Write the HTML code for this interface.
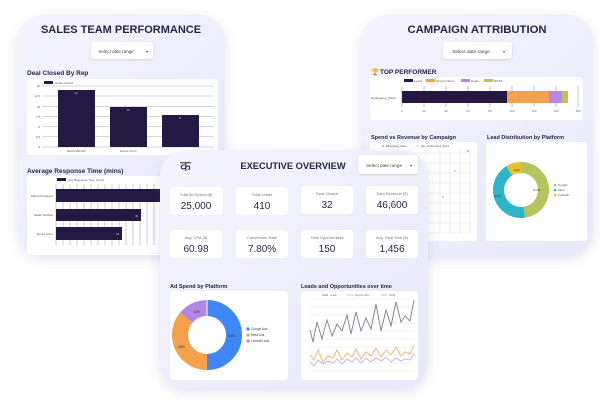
<!DOCTYPE html>
<html><head><meta charset="utf-8"><style>
html,body{margin:0;padding:0;background:#fff;width:600px;height:400px;overflow:hidden}
svg{display:block}
text{font-family:"Liberation Sans","Noto Sans CJK SC",sans-serif}
</style></head><body>
<svg width="600" height="400" viewBox="0 0 600 400" xmlns="http://www.w3.org/2000/svg">
<defs>
<linearGradient id="pg" x1="0" y1="0" x2="1" y2="1"><stop offset="0" stop-color="#f4f3fd"/><stop offset="1" stop-color="#e9e8fb"/></linearGradient>
<filter id="sh" x="-20%" y="-20%" width="140%" height="140%"><feDropShadow dx="0" dy="4" stdDeviation="6" flood-color="#7060a0" flood-opacity="0.18"/></filter>
<filter id="sh2" x="-10%" y="-10%" width="120%" height="120%"><feDropShadow dx="0" dy="1" stdDeviation="1" flood-color="#000" flood-opacity="0.12"/></filter>
</defs>

<!-- SALES PANEL -->
<rect x="18" y="15" width="207" height="240" rx="26" fill="url(#pg)" filter="url(#sh)"/>
<text x="121" y="33" font-size="11" font-weight="bold" fill="#2a2448" text-anchor="middle">SALES TEAM PERFORMANCE</text>
<rect x="91" y="42" width="62" height="17" rx="3" fill="#fff" filter="url(#sh2)"/>
<text x="116" y="53" font-size="4.5" fill="#444" text-anchor="middle">Select date range</text><text x="146" y="53" font-size="4" fill="#444">▾</text>
<text x="27" y="75" font-size="6.5" font-weight="bold" fill="#2a2448">Deal Closed By Rep</text>
<rect x="27" y="79" width="191" height="76" rx="3" fill="#fff"/>
<g stroke="#c8c8c8" stroke-width="0.8">
<line x1="42" y1="86" x2="214" y2="86"/><line x1="42" y1="96" x2="214" y2="96"/><line x1="42" y1="106.5" x2="214" y2="106.5"/><line x1="42" y1="116.5" x2="214" y2="116.5"/><line x1="42" y1="126.5" x2="214" y2="126.5"/><line x1="42" y1="136.5" x2="214" y2="136.5"/><line x1="42" y1="147" x2="214" y2="147"/></g>
<g font-size="3" fill="#555" text-anchor="end"><text x="40" y="87">15</text><text x="40" y="97">12.5</text><text x="40" y="108">10</text><text x="40" y="118">7.5</text><text x="40" y="128">5</text><text x="40" y="138">2.5</text><text x="40" y="148">0</text></g>
<rect x="44" y="81" width="9" height="3" fill="#231942"/><text x="55" y="84" font-size="3" fill="#555">Deals Closed</text>
<g fill="#231942"><rect x="58" y="90" width="37" height="57"/><rect x="110" y="107" width="37" height="40"/><rect x="162" y="115" width="37" height="32"/></g>
<g font-size="3" fill="#ccc" text-anchor="middle"><text x="76" y="94">14</text><text x="128" y="111">10</text><text x="180" y="119">8</text></g>
<g font-size="3" fill="#555" text-anchor="middle"><text x="76" y="152">Sarah Mitchell</text><text x="128" y="152">James Chen</text></g>
<text x="27" y="173" font-size="6.5" font-weight="bold" fill="#2a2448">Average Response Time (mins)</text>
<rect x="27" y="176" width="191" height="79" rx="3" fill="#fff"/>
<g stroke="#aaa" stroke-width="0.6">
<line x1="56" y1="184" x2="56" y2="245"/><line x1="63" y1="184" x2="63" y2="245"/><line x1="70" y1="184" x2="70" y2="245"/><line x1="77" y1="184" x2="77" y2="245"/><line x1="84" y1="184" x2="84" y2="245"/><line x1="91" y1="184" x2="91" y2="245"/><line x1="98" y1="184" x2="98" y2="245"/><line x1="105" y1="184" x2="105" y2="245"/><line x1="112" y1="184" x2="112" y2="245"/><line x1="119" y1="184" x2="119" y2="245"/><line x1="126" y1="184" x2="126" y2="245"/><line x1="133" y1="184" x2="133" y2="245"/><line x1="140" y1="184" x2="140" y2="245"/><line x1="147" y1="184" x2="147" y2="245"/><line x1="154" y1="184" x2="154" y2="245"/><line x1="161" y1="184" x2="161" y2="245"/></g>
<rect x="57" y="178" width="9" height="3" fill="#231942"/><text x="68" y="181" font-size="3" fill="#555">Avg Response Time (mins)</text>
<g fill="#231942"><rect x="56" y="189" width="110" height="13"/><rect x="56" y="209" width="85" height="12"/><rect x="56" y="227" width="66" height="13"/></g>
<g font-size="3" fill="#ccc"><text x="135" y="217">40</text><text x="116" y="235">31</text></g>
<g font-size="3" fill="#555" text-anchor="end"><text x="53" y="197">Maria Rodriguez</text><text x="53" y="216">Sarah Mitchell</text><text x="53" y="235">James Chen</text></g>

<!-- CAMPAIGN PANEL -->
<rect x="362" y="15" width="231" height="240" rx="26" fill="url(#pg)" filter="url(#sh)"/>
<text x="477" y="33" font-size="11.3" font-weight="bold" fill="#2a2448" text-anchor="middle">CAMPAIGN ATTRIBUTION</text>
<rect x="443" y="42" width="69" height="17" rx="3" fill="#fff" filter="url(#sh2)"/>
<text x="471" y="53" font-size="4.8" fill="#444" text-anchor="middle">Select date range</text><text x="503" y="53" font-size="4" fill="#444">▾</text>
<text x="371" y="74" font-size="6.5" fill="#d9a020">🏆</text><text x="380" y="74" font-size="6.5" font-weight="bold" fill="#2a2448">TOP PERFORMER</text>
<rect x="370" y="77" width="213" height="43" rx="3" fill="#fff"/>
<rect x="404" y="79" width="9" height="3" fill="#231942"/><text x="414" y="82" font-size="3" fill="#555">Leads</text>
<rect x="426" y="79" width="9" height="3" fill="#f4a14d"/><text x="436" y="82" font-size="3" fill="#555">Opportunities</text>
<rect x="461" y="79" width="9" height="3" fill="#b487e6"/><text x="471" y="82" font-size="3" fill="#555">Deals</text>
<rect x="484" y="79" width="9" height="3" fill="#b5c45c"/><text x="494" y="82" font-size="3" fill="#555">ROAS</text>
<g stroke="#999" stroke-width="0.6"><line x1="402" y1="86" x2="402" y2="107"/><line x1="424" y1="86" x2="424" y2="107"/><line x1="446" y1="86" x2="446" y2="107"/><line x1="468" y1="86" x2="468" y2="107"/><line x1="490" y1="86" x2="490" y2="107"/><line x1="512" y1="86" x2="512" y2="107"/><line x1="534" y1="86" x2="534" y2="107"/><line x1="556" y1="86" x2="556" y2="107"/><line x1="578" y1="86" x2="578" y2="107"/></g>
<rect x="402" y="91" width="105" height="12" fill="#231942"/><rect x="507" y="91" width="42" height="12" fill="#f4a14d"/><rect x="549" y="91" width="13" height="12" fill="#b487e6"/><rect x="562" y="91" width="6" height="12" fill="#b5c45c"/>
<text x="371" y="99" font-size="3" fill="#555">Retargeting_Warm</text>
<g font-size="3" fill="#666" text-anchor="middle"><text x="402" y="112">0</text><text x="424" y="112">20</text><text x="446" y="112">40</text><text x="468" y="112">60</text><text x="490" y="112">80</text><text x="512" y="112">100</text><text x="534" y="112">120</text><text x="556" y="112">140</text><text x="578" y="112">160</text></g>
<text x="371" y="139" font-size="5.5" font-weight="bold" fill="#2a2448">Spend vs Revenue by Campaign</text>
<text x="487" y="139" font-size="5.5" font-weight="bold" fill="#2a2448">Lead Distribution by Platform</text>
<rect x="370" y="142" width="107" height="99" rx="3" fill="#fff"/>
<g stroke="#e2e2e2" stroke-width="0.6"><line x1="384" y1="153" x2="470" y2="153"/><line x1="384" y1="163" x2="470" y2="163"/><line x1="384" y1="173" x2="470" y2="173"/><line x1="384" y1="183" x2="470" y2="183"/><line x1="384" y1="193" x2="470" y2="193"/><line x1="384" y1="203" x2="470" y2="203"/><line x1="384" y1="213" x2="470" y2="213"/><line x1="384" y1="223" x2="470" y2="223"/><line x1="384" y1="233" x2="470" y2="233"/><line x1="440" y1="150" x2="440" y2="233"/><line x1="450" y1="150" x2="450" y2="233"/><line x1="460" y1="150" x2="460" y2="233"/><line x1="470" y1="150" x2="470" y2="233"/></g>
<circle cx="383" cy="146" r="0.8" fill="#4a7ee8"/><text x="386" y="147" font-size="2.5" fill="#555">Retargeting_Warm</text>
<circle cx="418" cy="146" r="0.8" fill="#f4a14d"/><text x="421" y="147" font-size="2.5" fill="#555">Nov_Performance_Sprint</text>
<circle cx="468" cy="151" r="0.8" fill="#4a7ee8"/><circle cx="455" cy="171" r="0.8" fill="#f4a14d"/><circle cx="443" cy="197" r="0.8" fill="#b487e6"/>
<rect x="486" y="142" width="101" height="99" rx="3" fill="#fff"/>
<g transform="rotate(-90 521 190)" fill="none" stroke-width="11">
<circle cx="521" cy="190" r="22.5" stroke="#b5c45c" stroke-dasharray="67.3 141.4"/>
<circle cx="521" cy="190" r="22.5" stroke="#2bb5c8" stroke-dasharray="0 67.3 61.5 141.4"/>
<circle cx="521" cy="190" r="22.5" stroke="#e8c02a" stroke-dasharray="0 128.8 12.6 141.4"/>
</g>
<g font-size="2.5" fill="#333"><text x="533" y="191">47.6%</text><text x="494" y="197">43.5%</text><text x="514" y="171">8.9%</text></g>
<g font-size="3" fill="#555"><circle cx="555" cy="185" r="1.3" fill="#b5c45c"/><text x="558" y="186">Google</text><circle cx="555" cy="190" r="1.3" fill="#2bb5c8"/><text x="558" y="191">Meta</text><circle cx="555" cy="195" r="1.3" fill="#e8c02a"/><text x="558" y="196">LinkedIn</text></g>

<!-- EXECUTIVE PANEL -->
<rect x="160" y="150" width="268" height="238" rx="26" fill="url(#pg)" filter="url(#sh)"/>
<text x="180" y="171" font-size="14" fill="#2a2448" font-family="'Noto Sans CJK SC','DejaVu Sans',sans-serif">क</text>
<text x="293" y="169" font-size="9.3" font-weight="bold" fill="#2a2448" text-anchor="middle">EXECUTIVE OVERVIEW</text>
<rect x="358" y="155" width="60" height="19" rx="3" fill="#fff" filter="url(#sh2)"/>
<text x="384" y="167" font-size="4.6" fill="#444" text-anchor="middle">Select date range</text><text x="410" y="167" font-size="4" fill="#444">▾</text>
<g fill="#fff">
<rect x="170" y="187" width="53" height="28" rx="4"/><rect x="236" y="187" width="52" height="28" rx="4"/><rect x="301" y="186" width="52" height="28" rx="4"/><rect x="366" y="186" width="52" height="28" rx="4"/>
<rect x="170" y="230" width="52" height="28" rx="4"/><rect x="236" y="230" width="52" height="28" rx="4"/><rect x="301" y="230" width="52" height="28" rx="4"/><rect x="366" y="230" width="52" height="28" rx="4"/></g>
<g font-size="4" fill="#777" text-anchor="middle">
<text x="196" y="196">Total Ad Spend ($)</text><text x="262" y="196">Total Leads</text><text x="327" y="195">Deal Closed</text><text x="392" y="195">Total Revenue ($)</text>
<text x="196" y="239">Avg. CPA ($)</text><text x="262" y="239">Conversion Rate</text><text x="327" y="239">Total Opportunities</text><text x="392" y="239">Avg. Deal Size ($)</text></g>
<g font-size="10" fill="#2a2448" text-anchor="middle">
<text x="196" y="209">25,000</text><text x="262" y="209">410</text><text x="327" y="208">32</text><text x="392" y="208">46,600</text>
<text x="196" y="252">60.98</text><text x="262" y="252">7.80%</text><text x="327" y="252">150</text><text x="392" y="252">1,456</text></g>
<text x="170" y="288" font-size="5.5" font-weight="bold" fill="#2a2448">Ad Spend by Platform</text>
<text x="301" y="288" font-size="5.5" font-weight="bold" fill="#2a2448">Leads and Opportunities over time</text>
<rect x="170" y="291" width="118" height="89" rx="4" fill="#fff"/>
<g transform="rotate(-90 207 335)" fill="none" stroke-width="16">
<circle cx="207" cy="335" r="27" stroke="#3f87f5" stroke-dasharray="84.8 169.6"/>
<circle cx="207" cy="335" r="27" stroke="#f4a14d" stroke-dasharray="0 84.8 61.1 169.6"/>
<circle cx="207" cy="335" r="27" stroke="#b487e6" stroke-dasharray="0 145.9 23.7 169.6"/>
</g>
<line x1="207" y1="300" x2="207" y2="317" stroke="#fff" stroke-width="1"/>
<g font-size="3.5" fill="#333"><text x="228" y="337">50%</text><text x="178" y="348">36%</text><text x="193" y="313">14%</text></g>
<g font-size="3.2" fill="#444"><circle cx="248" cy="329" r="1.6" fill="#3f87f5"/><text x="251" y="330">Google Ads</text><circle cx="248" cy="335" r="1.6" fill="#f4a14d"/><text x="251" y="336">Meta Ads</text><circle cx="248" cy="341" r="1.6" fill="#b487e6"/><text x="251" y="342">LinkedIn Ads</text></g>
<rect x="301" y="291" width="117" height="89" rx="4" fill="#fff"/>
<g stroke="#e6e6e6" stroke-width="0.5"><line x1="309" y1="299" x2="415" y2="299"/><line x1="309" y1="307" x2="415" y2="307"/><line x1="309" y1="315" x2="415" y2="315"/><line x1="309" y1="323" x2="415" y2="323"/><line x1="309" y1="331" x2="415" y2="331"/><line x1="309" y1="339" x2="415" y2="339"/><line x1="309" y1="347" x2="415" y2="347"/><line x1="309" y1="355" x2="415" y2="355"/><line x1="309" y1="363" x2="415" y2="363"/><line x1="309" y1="371" x2="415" y2="371"/></g>
<g font-size="2.5" fill="#777"><line x1="322" y1="295" x2="328" y2="295" stroke="#888"/><text x="330" y="296">Leads</text><line x1="347" y1="295" x2="353" y2="295" stroke="#f8c08a"/><text x="355" y="296">Opportunities</text><line x1="381" y1="295" x2="387" y2="295" stroke="#c7b0ef"/><text x="389" y="296">Deals</text></g>
<polyline fill="none" stroke="#8a8794" stroke-width="1" points="310,330 313,342 317,322 322,339 327,320 332,336 337,324 342,331 347,315 351,334 356,312 361,331 366,318 371,329 376,304 381,331 386,310 391,326 396,302 401,322 405,316 410,321 414,300"/>
<polyline fill="none" stroke="#f8b77a" stroke-width="1" points="310,355 314,360 318,350 323,362 328,356 333,358 337,350 342,360 347,353 352,357 356,349 361,359 366,352 371,356 376,348 381,357 386,350 391,355 396,347 401,356 405,352 410,354 414,345"/>
<polyline fill="none" stroke="#c9b2f0" stroke-width="1" points="310,362 314,366 318,360 323,364 328,361 333,363 337,359 342,364 347,359 352,362 356,358 361,363 366,358 371,362 376,358 381,361 386,357 391,362 396,358 401,361 405,359 410,360 414,354"/>
</svg>
</body></html>
